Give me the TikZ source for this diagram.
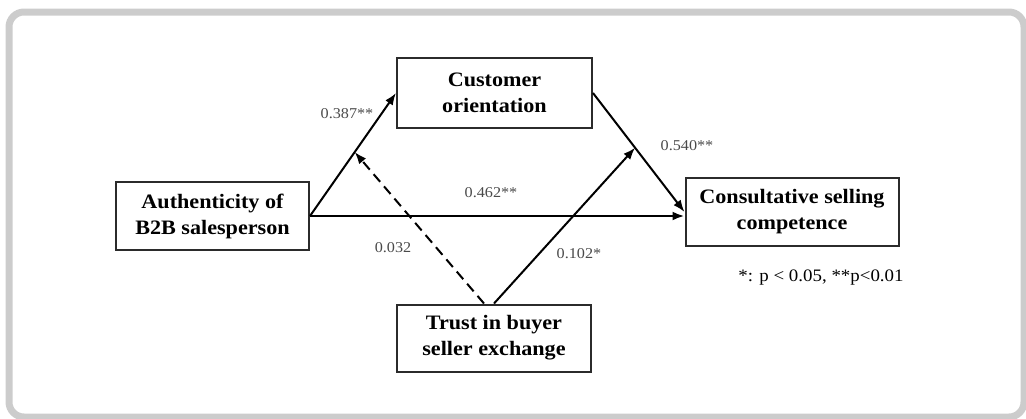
\documentclass[tikz,border=0pt]{standalone}
\usepackage{fontspec}
\setmainfont{Liberation Serif}[FakeStretch=1.08]
\usetikzlibrary{arrows.meta}
\definecolor{framegray}{HTML}{CCCCCC}
\definecolor{boxline}{HTML}{2B2B2B}
\definecolor{coefgray}{HTML}{4A4A4A}
\begin{document}
\begin{tikzpicture}[x=1pt, y=-1pt,
  var/.style={draw=boxline, line width=2pt, fill=white, align=center,
    font=\fontsize{20.5}{26}\selectfont\bfseries, inner sep=0pt},
  path/.style={line width=2pt, -{Latex[length=12pt,width=9pt]}},
  coef/.style={text=coefgray, font=\fontsize{15}{18}\selectfont, inner sep=0pt},
  note/.style={font=\fontsize{17.5}{20}\selectfont, inner sep=0pt}]
\useasboundingbox (0,0) rectangle (1026,418);
% outer frame
\draw[framegray, line width=7pt, rounded corners=15pt] (9,12) rectangle (1024,417);

% variables
\node[var, minimum width=193pt, minimum height=68pt] (auth) at (212.5,216) {Authenticity of\\B2B salesperson};
\node[var, minimum width=195pt, minimum height=70pt] (cust) at (494.5,93) {Customer\\orientation};
\node[var, minimum width=213pt, minimum height=68pt] (cons) at (792,212) {Consultative selling\\competence};
\node[var, minimum width=194pt, minimum height=67pt] (trust) at (494,338) {Trust in buyer\\seller exchange};

% paths
\draw[path] (auth.east) -- (cust.west) coordinate[pos=0.52] (modA);
\draw[path] (cust.east) -- (cons.west) coordinate[pos=0.46] (modB);
\draw[path, line width=2.8pt] (auth.east) -- (auth.east -| cons.west);
\draw[path, dashed, dash pattern=on 10pt off 6pt] ([xshift=-10pt]trust.north) -- (modA);
\draw[path] (trust.north) -- (modB);

% coefficients
\node[coef] (cAC) at (347,114) {0.387**};
\node[coef] (cCC) at (687,146) {0.540**};
\node[coef] (cAS) at (491,193) {0.462**};
\node[coef] (cTA) at (393,248) {0.032};
\node[coef] (cTC) at (579,254) {0.102*};
\node[note] (sig) at (821,278) {*: p < 0.05, **p<0.01};
\end{tikzpicture}
\end{document}
